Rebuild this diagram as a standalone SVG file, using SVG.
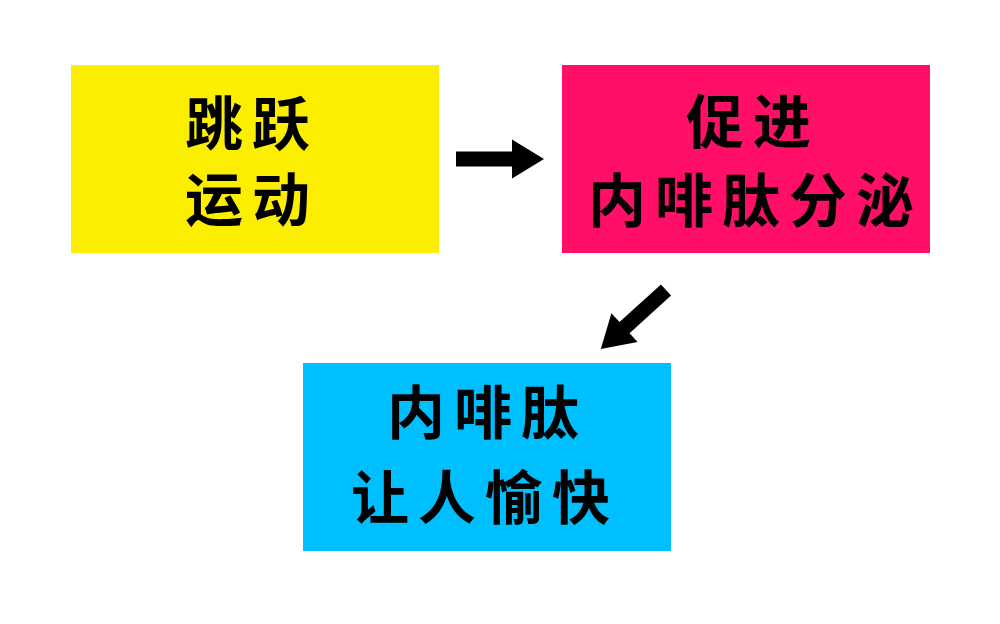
<svg xmlns="http://www.w3.org/2000/svg" width="1000" height="624" viewBox="0 0 1000 624">
  <style>
    .lbl { font-family: "Noto Sans CJK SC", "Noto Sans", sans-serif; font-weight: 700; font-size: 58px; letter-spacing: 9px; fill: #000; }
  </style>
  <defs>
    <polygon id="arrow" points="0,-7.5 56,-7.5 56,-19.5 88,0 56,19.5 56,7.5 0,7.5" fill="#000"/>
  </defs>
  <rect width="1000" height="624" fill="#fff"/>
  <g id="node-jump">
    <rect x="71" y="65" width="368" height="188" fill="#FCEE00"/>
    <text class="lbl"><tspan x="185" y="145">跳跃</tspan><tspan x="185" y="221">运动</tspan></text>
  </g>
  <g id="node-promote">
    <rect x="562" y="65" width="368" height="188" fill="#FF0F68"/>
    <text class="lbl"><tspan x="686" y="143">促进</tspan><tspan x="588" y="222">内啡肽分泌</tspan></text>
  </g>
  <g id="node-happy">
    <rect x="303" y="363" width="368" height="188" fill="#00BFFF"/>
    <text class="lbl"><tspan x="387" y="434">内啡肽</tspan><tspan x="351" y="519">让人愉快</tspan></text>
  </g>
  <g id="connectors">
    <use href="#arrow" transform="translate(456,159)"/>
    <use href="#arrow" transform="translate(666,290) rotate(137.8)"/>
  </g>
</svg>
